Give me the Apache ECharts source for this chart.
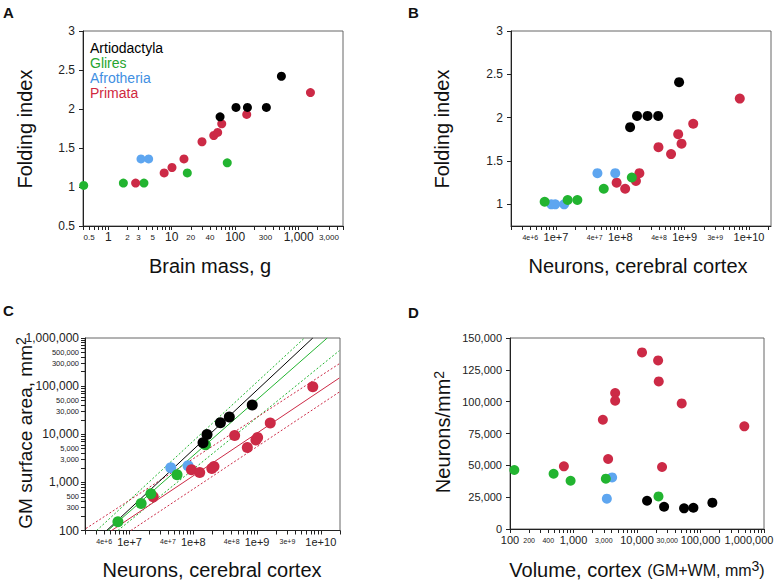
<!DOCTYPE html>
<html>
<head>
<meta charset="utf-8">
<script src="https://cdn.jsdelivr.net/npm/echarts@6/dist/echarts.min.js"></script>
<style>html,body{margin:0;padding:0;background:#fff}#main{width:777px;height:584px}</style>
</head>
<body>
<div id="main"></div>
<script>
// ---------- DATA ----------
const groups = ['Artiodactyla', 'Glires', 'Afrotheria', 'Primata'];

// Panel A: brain mass (g) vs folding index
const aArtioMass = [57.8, 103, 156, 310, 535];
const aArtioFold = [1.90, 2.02, 2.02, 2.02, 2.42];
const aGliresMass = [0.41, 1.73, 3.65, 17.6, 75];
const aGliresFold = [1.02, 1.05, 1.05, 1.18, 1.31];
const aAfroMass = [3.28, 4.33];
const aAfroFold = [1.36, 1.36];
const aPrimMass = [2.7, 7.6, 10.1, 15.6, 30, 46, 53, 61.4, 152, 1535];
const aPrimFold = [1.05, 1.18, 1.25, 1.36, 1.58, 1.66, 1.70, 1.81, 1.93, 2.21];

// Panel B: cortical neurons vs folding index
const bArtioN = [1.42e8, 1.82e8, 2.65e8, 3.88e8, 8.2e8];
const bArtioFold = [1.89, 2.02, 2.02, 2.02, 2.41];
const bGliresN = [6.67e6, 1.52e7, 2.15e7, 5.53e7, 1.51e8];
const bGliresFold = [1.03, 1.05, 1.05, 1.18, 1.31];
const bAfroN = [8.46e6, 9.75e6, 1.34e7, 4.41e7, 8.34e7];
const bAfroFold = [1.0, 1.0, 1.0, 1.36, 1.36];
const bPrimN = [8.77e7, 1.19e8, 1.75e8, 1.98e8, 3.92e8, 6.15e8, 7.94e8, 8.95e8, 1.36e9, 7.2e9];
const bPrimFold = [1.25, 1.18, 1.27, 1.36, 1.66, 1.58, 1.81, 1.70, 1.93, 2.22];

// Panel C: cortical neurons vs GM surface area (mm2)
const cArtioN = [1.42e8, 1.64e8, 2.66e8, 3.67e8, 8.4e8];
const cArtioArea = [6650, 9900, 17300, 22800, 40500];
const cGliresN = [6.57e6, 1.52e7, 2.16e7, 5.56e7, 1.55e8];
const cGliresArea = [152, 364, 580, 1440, 6050];
const cAfroN = [4.43e7, 8.27e7];
const cAfroArea = [2010, 2210];
const cPrimN = [2.35e7, 9.35e7, 1.26e8, 1.95e8, 2.11e8, 4.45e8, 7.03e8, 9.6e8, 1.02e9, 1.61e9, 7.48e9];
const cPrimArea = [500, 1830, 1610, 1950, 2140, 9440, 5320, 7600, 8600, 17100, 97200];
// Panel C fitted lines: [x1, y1, x2, y2]
const cFitArtio = [4.38e6, 100, 7.48e9, 1e6];
const cFitGlires = [4.58e6, 100, 1.26e10, 1e6];
const cFitGliresHi = [3.05e6, 100, 5.55e9, 1e6];
const cFitGliresLo = [6.56e6, 100, 1.95e10, 545000];
const cFitPrim = [5.23e6, 100, 1.95e10, 147300];
const cFitPrimHi = [2.07e6, 110, 1.95e10, 292000];
const cFitPrimLo = [1.05e7, 100, 1.95e10, 75400];

// Panel D: cortex volume (mm3) vs neurons/mm2
const dArtioVol = [14400, 26700, 55100, 77300, 153800];
const dArtioDens = [22200, 17500, 16200, 16700, 20700];
const dGliresVol = [117, 486, 900, 3230, 21800];
const dGliresDens = [46300, 43400, 37900, 39500, 25600];
const dAfroVol = [3350, 4060];
const dAfroDens = [23800, 40500];
const dPrimVol = [706, 2900, 3510, 4530, 4530, 12000, 21500, 22000, 24800, 50600, 490000];
const dPrimDens = [49200, 85800, 55000, 106800, 100750, 138700, 132400, 115900, 48700, 98600, 80600];

// Tick labels
const aXLabels = [0.5, 1, 2, 3, 5, 10, 20, 40, 100, 300, 1000, 3000];
const aYLabels = [0.5, 1, 1.5, 2, 2.5, 3];
const bYLabels = [1, 1.5, 2, 2.5, 3];
const neuronLabels = [4e6, 1e7, 4e7, 1e8, 4e8, 1e9, 3e9, 1e10];
const cYLabels = [100, 300, 500, 1000, 3000, 5000, 10000, 30000, 50000, 100000, 300000, 500000, 1000000];
const dXLabels = [100, 200, 400, 1000, 3000, 10000, 30000, 100000, 999999];

// ---------- STYLE ----------
const FONT = '"Liberation Sans", Arial, Helvetica, sans-serif';
const COLORS = {Artiodactyla: '#000000', Glires: '#22b430', Afrotheria: '#5ea6f0', Primata: '#cc2a46'};
const LEGEND_COLORS = {Artiodactyla: '#000000', Glires: '#26a52e', Afrotheria: '#3f8fe2', Primata: '#d0283e'};
const AX = '#222';

function logTicks(lo, hi) {
  const out = [];
  for (let e = Math.floor(Math.log10(lo)) ; e <= Math.ceil(Math.log10(hi)); e++) {
    for (let m = 1; m <= 9; m++) {
      const v = Number((m * Math.pow(10, e)).toPrecision(6));
      if (v >= lo * 0.9999 && v <= hi * 1.0001) out.push(v);
    }
  }
  return out;
}
const clean = v => Number(Number(v).toPrecision(5));
const isPow10 = v => Math.abs(Math.log10(v) - Math.round(Math.log10(v))) < 1e-5;
const comma = v => clean(v).toLocaleString('en-US');
const sci = v => { v = clean(v); const e = Math.floor(Math.log10(v) + 1e-9); const m = Math.round(v / Math.pow(10, e)); return m + 'e+' + e; };

const RICH = (big, small) => ({
  b: {fontSize: big, fontFamily: FONT, color: AX},
  s: {fontSize: small, fontFamily: FONT, color: AX},
  r: {fontSize: big, fontFamily: FONT, color: AX, padding: [0, 30, 0, 0]}
});

function logXAxis(grid, min, max, labels, fmt, big, small) {
  return {
    type: 'log', logBase: 10, gridIndex: grid, min: min, max: max,
    axisLine: {show: true, lineStyle: {color: AX, width: 1}},
    splitLine: {show: false},
    axisTick: {show: true, length: 4, lineStyle: {color: AX}, customValues: logTicks(min, max)},
    axisLabel: {
      customValues: labels, margin: 11, verticalAlign: 'middle', showMaxLabel: true, showMinLabel: true,
      formatter: v => (isPow10(v) ? (clean(v) >= 1e6 && grid === 3 ? '{r|' : '{b|') : '{s|') + fmt(v) + '}',
      rich: RICH(big, small)
    }
  };
}

function scatter(name, xi, xs, ys, size) {
  return {
    type: 'scatter', name: name, xAxisIndex: xi, yAxisIndex: xi,
    data: xs.map((x, i) => [x, ys[i]]),
    symbol: 'circle', symbolSize: size,
    itemStyle: {color: COLORS[name], opacity: 1},
    emphasis: {disabled: true}, z: 5
  };
}
function fitLine(arr, color, dotted) {
  return {
    type: 'line', xAxisIndex: 2, yAxisIndex: 2,
    data: [[arr[0], arr[1]], [arr[2], arr[3]]],
    symbol: 'none', clip: true, silent: true, z: 3,
    lineStyle: {color: color, width: 1, type: dotted ? [2, 2] : 'solid'}
  };
}

const gridCommon = {show: true, borderColor: '#666', borderWidth: 1, backgroundColor: 'rgba(0,0,0,0)', containLabel: false};

const option = {
  animation: false,
  backgroundColor: '#fff',
  grid: [
    Object.assign({left: 83, top: 31, width: 260, height: 195}, gridCommon),
    Object.assign({left: 511, top: 31, width: 260, height: 195}, gridCommon),
    Object.assign({left: 85, top: 338, width: 255, height: 192.5}, gridCommon),
    Object.assign({left: 510, top: 338, width: 254, height: 191}, gridCommon)
  ],
  xAxis: [
    logXAxis(0, 0.4, 5000, aXLabels, comma, 12, 8),
    logXAxis(1, 2e6, 2.2e10, neuronLabels, sci, 11, 7),
    logXAxis(2, 2e6, 2e10, neuronLabels, sci, 11, 7),
    logXAxis(3, 100, 1000000, dXLabels, comma, 11, 7)
  ],
  yAxis: [
    {type: 'value', gridIndex: 0, min: 0.5, max: 3, interval: 0.5,
     axisLine: {show: true, lineStyle: {color: AX}}, splitLine: {show: false},
     axisTick: {show: true, length: 4, lineStyle: {color: AX}},
     axisLabel: {fontSize: 12, fontFamily: FONT, color: AX, margin: 8}},
    {type: 'value', gridIndex: 1, min: 0.75, max: 3,
     axisLine: {show: true, lineStyle: {color: AX}}, splitLine: {show: false},
     axisTick: {show: true, length: 4, lineStyle: {color: AX}, customValues: bYLabels},
     axisLabel: {fontSize: 12, fontFamily: FONT, color: AX, margin: 8, customValues: bYLabels}},
    {type: 'log', logBase: 10, gridIndex: 2, min: 100, max: 1000000,
     axisLine: {show: true, lineStyle: {color: AX}}, splitLine: {show: false},
     axisTick: {show: true, length: 4, lineStyle: {color: AX}, customValues: logTicks(100, 1000000)},
     axisLabel: {customValues: cYLabels, margin: 6,
       formatter: v => (isPow10(v) ? '{b|' : '{s|') + comma(v) + '}',
       rich: RICH(12, 7.5)}},
    {type: 'value', gridIndex: 3, min: 0, max: 150000, interval: 25000,
     axisLine: {show: true, lineStyle: {color: AX}}, splitLine: {show: false},
     axisTick: {show: true, length: 4, lineStyle: {color: AX}},
     axisLabel: {fontSize: 11, fontFamily: FONT, color: AX, margin: 8, formatter: v => comma(v)}}
  ],
  series: [
    scatter('Glires', 0, aGliresMass, aGliresFold, 9),
    scatter('Afrotheria', 0, aAfroMass, aAfroFold, 9),
    scatter('Primata', 0, aPrimMass, aPrimFold, 9),
    scatter('Artiodactyla', 0, aArtioMass, aArtioFold, 9),

    scatter('Primata', 1, bPrimN, bPrimFold, 10),
    scatter('Afrotheria', 1, bAfroN, bAfroFold, 10),
    scatter('Glires', 1, bGliresN, bGliresFold, 10),
    scatter('Artiodactyla', 1, bArtioN, bArtioFold, 10),

    fitLine(cFitGliresHi, COLORS.Glires, true),
    fitLine(cFitGliresLo, COLORS.Glires, true),
    fitLine(cFitPrimHi, COLORS.Primata, true),
    fitLine(cFitPrimLo, COLORS.Primata, true),
    fitLine(cFitPrim, COLORS.Primata, false),
    fitLine(cFitGlires, COLORS.Glires, false),
    fitLine(cFitArtio, COLORS.Artiodactyla, false),
    scatter('Afrotheria', 2, cAfroN, cAfroArea, 11),
    scatter('Primata', 2, cPrimN, cPrimArea, 11),
    scatter('Glires', 2, cGliresN, cGliresArea, 11),
    scatter('Artiodactyla', 2, cArtioN, cArtioArea, 11),

    scatter('Afrotheria', 3, dAfroVol, dAfroDens, 10),
    scatter('Glires', 3, dGliresVol, dGliresDens, 10),
    scatter('Primata', 3, dPrimVol, dPrimDens, 10),
    scatter('Artiodactyla', 3, dArtioVol, dArtioDens, 10)
  ],
  graphic: []
};

function txt(text, x, y, opts) {
  return Object.assign({
    type: 'text', x: x, y: y, silent: true,
    style: Object.assign({text: text, fontFamily: FONT, fontSize: 20, fill: '#111', align: 'center', verticalAlign: 'middle'}, (opts && opts.style) || {})
  }, (opts && opts.el) || {});
}
const SUP = {fontSize: 14, fontFamily: FONT, fill: '#111', verticalAlign: 'top', lineHeight: 22};
const MAIN = {fontSize: 20, fontFamily: FONT, fill: '#111', lineHeight: 22};
const MAIN19 = {fontSize: 19, fontFamily: FONT, fill: '#111', lineHeight: 22};
const PAREN = {fontSize: 16, fontFamily: FONT, fill: '#111', lineHeight: 22};

option.graphic = [
  txt('A', 3, 12, {style: {fontSize: 15, fontWeight: 'bold', align: 'left'}}),
  txt('B', 408, 12, {style: {fontSize: 15, fontWeight: 'bold', align: 'left'}}),
  txt('C', 3, 310, {style: {fontSize: 15, fontWeight: 'bold', align: 'left'}}),
  txt('D', 408, 312, {style: {fontSize: 15, fontWeight: 'bold', align: 'left'}}),

  txt('Folding index', 25, 129, {el: {rotation: Math.PI / 2}}),
  txt('Brain mass, g', 210, 266),
  txt('Folding index', 442, 129, {el: {rotation: Math.PI / 2}}),
  txt('Neurons, cerebral cortex', 638, 266),
  txt('{m|GM surface area, mm}{p|2}', 25, 433, {el: {rotation: Math.PI / 2}, style: {rich: {m: MAIN19, p: SUP}}}),
  txt('Neurons, cerebral cortex', 212, 570),
  txt('{m|Neurons/mm}{p|2}', 443, 432, {el: {rotation: Math.PI / 2}, style: {rich: {m: MAIN, p: SUP}}}),
  txt('{m|Volume, cortex }{q|(GM+WM, mm}{p|3}{q|)}', 637, 570, {style: {rich: {m: MAIN, q: PAREN, p: SUP}}}),

  txt(groups[0], 90, 48, {style: {fontSize: 14, align: 'left', fill: LEGEND_COLORS.Artiodactyla}}),
  txt(groups[1], 90, 63, {style: {fontSize: 14, align: 'left', fill: LEGEND_COLORS.Glires}}),
  txt(groups[2], 90, 78, {style: {fontSize: 14, align: 'left', fill: LEGEND_COLORS.Afrotheria}}),
  txt(groups[3], 90, 93, {style: {fontSize: 14, align: 'left', fill: LEGEND_COLORS.Primata}})
];

const chart = echarts.init(document.getElementById('main'), null, {renderer: 'svg', width: 777, height: 584});
chart.setOption(option);
</script>
</body>
</html>
